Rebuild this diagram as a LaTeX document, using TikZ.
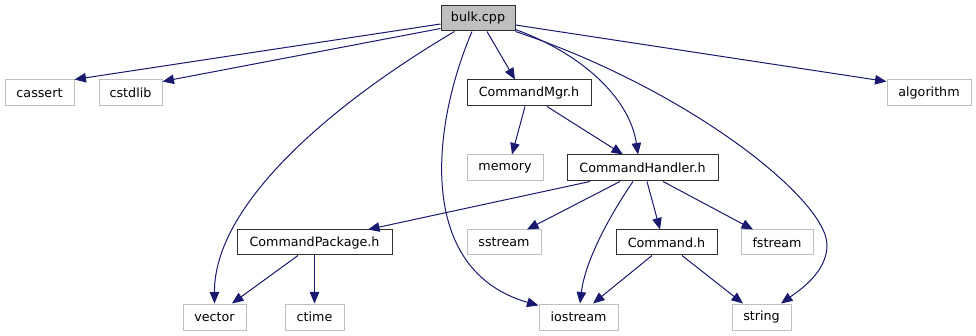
\documentclass[tikz,border=0pt]{standalone}
\usepackage{fontspec}
\setmainfont{DejaVu Sans}
\usetikzlibrary{arrows.meta}
\definecolor{edgeblue}{HTML}{191970}
\definecolor{extgrey}{HTML}{BFBFBF}
\definecolor{intborder}{HTML}{303030}
\tikzset{
  file/.style={draw, line width=1pt, inner sep=0pt, font=\fontsize{12.7}{15}\selectfont,
    minimum height=26pt},
  internal/.style={file, draw=intborder, fill=white},
  external/.style={file, draw=extgrey, fill=white},
  current/.style={file, draw=intborder, fill=extgrey},
  dep/.style={draw=edgeblue, line width=1pt,
    -{Triangle[length=11.5pt,width=9.5pt]}, fill=none},
}
\begin{document}
\begin{tikzpicture}[x=1pt,y=-1pt]
\useasboundingbox (0,0) rectangle (976,336);
\fill[white] (0,0) rectangle (976,336);

% files
\node[current,  minimum width=74pt, minimum height=25pt] (bulk) at (478,18.5) {bulk.cpp};
\node[external, minimum width=69pt]  (cassert)  at (39.5,93)  {cassert};
\node[external, minimum width=63pt]  (cstdlib)  at (130.5,93) {cstdlib};
\node[internal, minimum width=124pt] (cmgr)     at (529,93)   {CommandMgr.h};
\node[external, minimum width=84pt]  (algo)     at (929,93)   {algorithm};
\node[external, minimum width=76pt]  (memory)   at (505,168)  {memory};
\node[internal, minimum width=151pt] (ch)       at (642.5,168) {CommandHandler.h};
\node[internal, minimum width=155pt, minimum height=25pt] (cp) at (314.5,242.5) {CommandPackage.h};
\node[external, minimum width=74pt, minimum height=25pt]  (sstream) at (504,242.5) {sstream};
\node[internal, minimum width=101pt, minimum height=25pt] (cmd)     at (666.5,242.5) {Command.h};
\node[external, minimum width=72pt, minimum height=25pt]  (fstream) at (777,242.5) {fstream};
\node[external, minimum width=63pt]  (vector)   at (214.5,317) {vector};
\node[external, minimum width=59pt]  (ctime)    at (314.5,317) {ctime};
\node[external, minimum width=79pt]  (iostream) at (578.5,317) {iostream};
\node[external, minimum width=59pt]  (string)   at (761.5,317) {string};

% includes of bulk.cpp
\draw[dep] ([yshift=-5.5pt]bulk.west) -- (cassert.north east);
\draw[dep] ([yshift=3pt]bulk.south west) -- ([yshift=-2pt]cstdlib.north east);
\draw[dep] ([xshift=14pt]bulk.south west) .. controls (330,105) and (214,205) .. (vector.north);
\draw[dep] ([xshift=-6pt]bulk.south) .. controls (432,125) and (415,270) .. ([yshift=-2pt]iostream.north west);
\draw[dep] ([xshift=9pt]bulk.south) -- ([xshift=-14pt]cmgr.north);
\draw[dep] ([yshift=2pt]bulk.south east) .. controls (585,55) and (630,100) .. ([xshift=-4.5pt]ch.north);
\draw[dep] (bulk.south east) .. controls (690,90) and (827,200) .. (827,245)
  .. controls (827,272) and (800,290) .. ([xshift=19.5pt]string.north);
\draw[dep] ([yshift=-6.5pt]bulk.east) -- ([yshift=-2pt]algo.north west);

% includes of CommandMgr.h
\draw[dep] ([xshift=-4pt]cmgr.south) -- ([xshift=7pt]memory.north);
\draw[dep] ([xshift=18pt]cmgr.south) -- ([xshift=-19.5pt]ch.north);

% includes of CommandHandler.h
\draw[dep] ([xshift=-52.5pt]ch.south) -- ([xshift=53.5pt]cp.north);
\draw[dep] ([xshift=-22.5pt]ch.south) -- ([xshift=23pt]sstream.north);
\draw[dep] ([xshift=-9.5pt]ch.south) .. controls (608,218) and (585,262) .. ([xshift=1.5pt]iostream.north);
\draw[dep] ([xshift=4.5pt]ch.south) -- ([xshift=-6.5pt]cmd.north);
\draw[dep] ([xshift=20.5pt]ch.south) -- ([xshift=-24pt]fstream.north);

% includes of CommandPackage.h
\draw[dep] ([xshift=-16.5pt]cp.south) -- ([xshift=17.5pt]vector.north);
\draw[dep] (cp.south) -- (ctime.north);

% includes of Command.h
\draw[dep] ([xshift=-14.5pt]cmd.south) -- ([xshift=14.5pt]iostream.north);
\draw[dep] ([xshift=15.5pt]cmd.south) -- ([xshift=-18.5pt]string.north);
\end{tikzpicture}
\end{document}
